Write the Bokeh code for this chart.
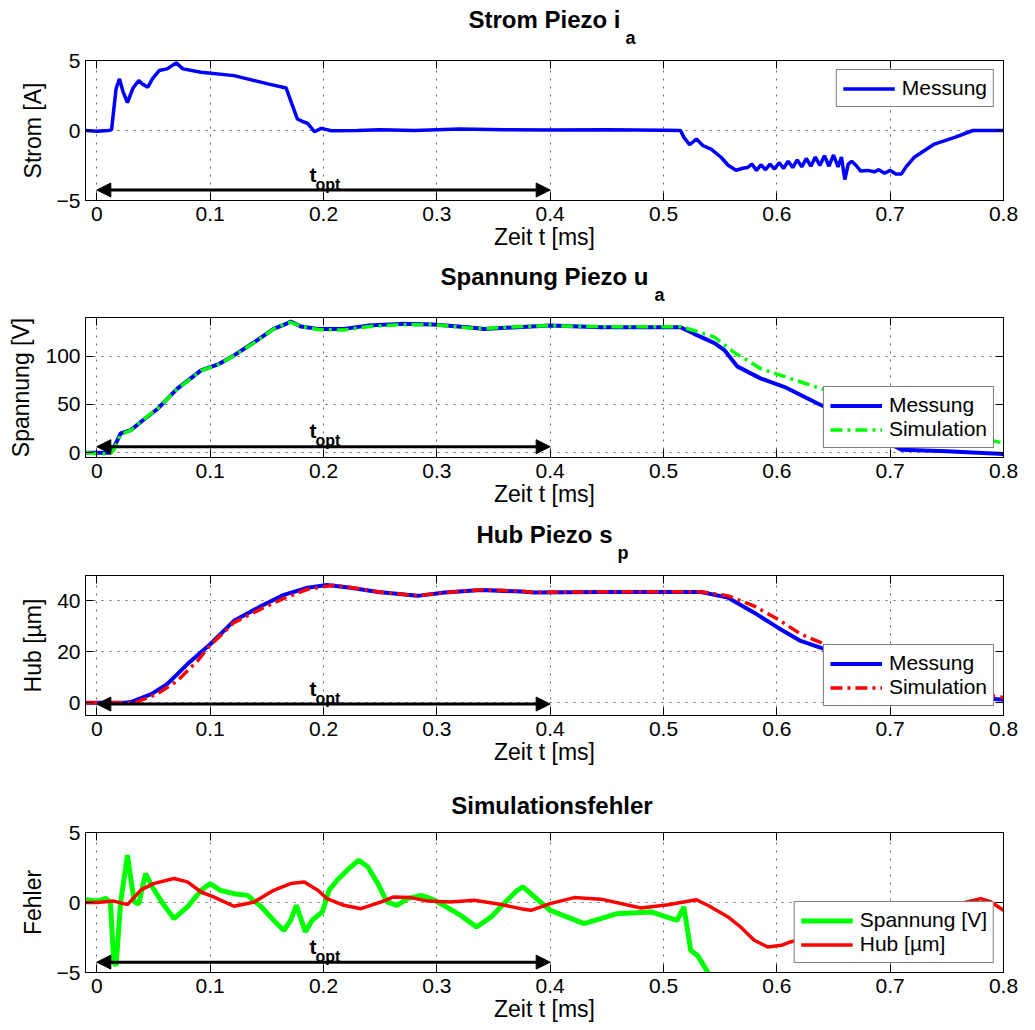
from bokeh.plotting import figure
from bokeh.models import (Range1d, FixedTicker, LinearAxis, Legend, LegendItem,
                          Label, Arrow, NormalHead)
from bokeh.layouts import column
from bokeh.embed import file_html
from bokeh.resources import INLINE

FONT = "Liberation Sans"

# ---------------- data ----------------
x_ticks = [0, 0.1, 0.2, 0.3, 0.4, 0.5, 0.6, 0.7, 0.8]
x_tick_labels = ["0", "0.1", "0.2", "0.3", "0.4", "0.5", "0.6", "0.7", "0.8"]

# Strom Piezo i_a (Messung)
t_i = [-0.01, 0.0, 0.01, 0.013, 0.017, 0.020, 0.023, 0.027, 0.032, 0.037, 0.040, 0.045,
       0.049, 0.055, 0.062, 0.070, 0.076, 0.092, 0.121, 0.151, 0.167, 0.171, 0.177, 0.181,
       0.186, 0.192, 0.198, 0.207, 0.23, 0.25, 0.28, 0.32, 0.36, 0.40, 0.45, 0.50, 0.515,
       0.518, 0.523, 0.529, 0.535, 0.542, 0.551, 0.557, 0.564, 0.570, 0.574, 0.578, 0.582,
       0.586, 0.590, 0.594, 0.598, 0.602, 0.606, 0.610, 0.614, 0.618, 0.622, 0.626, 0.630,
       0.634, 0.638, 0.642, 0.646, 0.650, 0.654, 0.657, 0.660, 0.663, 0.666, 0.670, 0.674,
       0.680, 0.686, 0.690, 0.695, 0.700, 0.705, 0.710, 0.714, 0.721, 0.739, 0.757, 0.773, 0.80]
i_meas = [0.0, -0.05, 0.0, 0.05, 3.0, 3.69, 2.8, 2.0, 3.04, 3.57, 3.33, 3.09,
          3.69, 4.28, 4.4, 4.83, 4.4, 4.16, 3.92, 3.33, 3.04, 2.13, 0.82, 0.66,
          0.51, -0.09, 0.15, -0.02, 0.0, 0.05, 0.0, 0.1, 0.05, 0.03, 0.05, 0.02, 0.0,
          -0.49, -1.02, -0.61, -1.09, -1.33, -1.93, -2.48, -2.84, -2.7, -2.65, -2.4, -2.85,
          -2.45, -2.8, -2.4, -2.75, -2.3, -2.7, -2.2, -2.65, -2.1, -2.6, -2.0, -2.55,
          -1.9, -2.5, -1.8, -2.55, -1.75, -2.6, -1.9, -3.5, -2.4, -2.2, -2.5, -2.9,
          -2.85, -2.95, -2.8, -3.05, -2.85, -3.1, -3.1, -2.6, -1.93, -0.97, -0.49, 0.0, 0.0]

# Spannung Piezo u_a
t_u = [-0.01, 0.0, 0.012, 0.015, 0.021, 0.030, 0.039, 0.054, 0.071, 0.092, 0.107, 0.121,
       0.139, 0.156, 0.168, 0.171, 0.180, 0.195, 0.218, 0.239, 0.268, 0.297, 0.327, 0.342,
       0.371, 0.40, 0.445, 0.515, 0.527, 0.545, 0.554, 0.565, 0.586, 0.607, 0.636, 0.66,
       0.68, 0.70, 0.71, 0.75, 0.80]
u_meas = [0, 0, 0, 5, 20, 23.4, 32, 45.8, 66.4, 85.3, 91.4, 100.7,
          114.4, 128.2, 134, 135.8, 130.6, 128.2, 128.2, 131.6, 133.4, 132.7, 129.9, 128.2,
          129.9, 131.6, 129.9, 129.9, 123.1, 113.4, 105.9, 89.4, 76.7, 68, 50.9, 38,
          25, 9, 3, 1.5, -1.5]
t_u_sim = [-0.01, 0.0, 0.012, 0.015, 0.021, 0.030, 0.039, 0.054, 0.071, 0.092, 0.107, 0.121,
           0.139, 0.156, 0.168, 0.171, 0.180, 0.195, 0.218, 0.239, 0.268, 0.297, 0.327, 0.342,
           0.371, 0.40, 0.445, 0.515, 0.527, 0.545, 0.562, 0.586, 0.612, 0.639, 0.66, 0.69,
           0.72, 0.76, 0.80]
u_sim = [0, -1, -1, 3, 19, 23, 32.5, 46, 66, 85, 91, 100.5,
         114, 128, 134.5, 135, 131, 127.5, 127, 130.5, 132.5, 132.5, 129.5, 128.5,
         130.5, 131.5, 130.5, 130.5, 126.5, 119.6, 104.1, 87, 76.7, 66.4, 58, 45,
         32, 20, 10]

# Hub Piezo s_p
t_s = [-0.01, 0.0, 0.025, 0.030, 0.048, 0.062, 0.080, 0.100, 0.121, 0.145, 0.165, 0.186,
       0.203, 0.224, 0.248, 0.283, 0.307, 0.339, 0.374, 0.386, 0.445, 0.533, 0.557, 0.580,
       0.601, 0.621, 0.639, 0.67, 0.70, 0.75, 0.80]
s_meas = [0, 0, 0, 0.3, 3.4, 7.3, 15.2, 23, 32.2, 38, 42.4, 45.2,
          46.3, 45.2, 43.5, 42, 43.3, 44.3, 43.7, 43.3, 43.5, 43.5, 41.3, 35.4,
          29.5, 24.3, 21.6, 15, 9, 3, 1.2]
t_s_sim = [-0.01, 0.0, 0.033, 0.053, 0.071, 0.089, 0.100, 0.121, 0.145, 0.165, 0.186, 0.209,
           0.224, 0.248, 0.283, 0.307, 0.339, 0.374, 0.386, 0.445, 0.533, 0.557, 0.580, 0.601,
           0.621, 0.639, 0.67, 0.70, 0.75, 0.80]
s_sim = [0, 0, 0, 3.4, 8.6, 16.5, 22.6, 31.5, 36.9, 41, 44.6, 46.2,
         45.3, 43.6, 42, 43.3, 44.4, 43.8, 43.4, 43.6, 43.6, 42, 38, 32.8,
         27, 23.6, 17, 11, 5, 2.1]

# Simulationsfehler
t_eu = [-0.01, 0.0, 0.008, 0.012, 0.015, 0.017, 0.021, 0.027, 0.033, 0.037, 0.043, 0.049,
        0.058, 0.068, 0.080, 0.092, 0.100, 0.109, 0.121, 0.133, 0.145, 0.156, 0.165, 0.171,
        0.176, 0.179, 0.184, 0.190, 0.199, 0.205, 0.212, 0.221, 0.231, 0.239, 0.248, 0.256,
        0.265, 0.274, 0.286, 0.295, 0.306, 0.321, 0.335, 0.348, 0.362, 0.371, 0.376, 0.400,
        0.430, 0.459, 0.489, 0.512, 0.518, 0.524, 0.530, 0.539, 0.545, 0.56, 0.60, 0.70, 0.80]
e_u = [0.2, 0.1, 0.3, 0.0, -4.3, -4.5, 0.0, 3.38, 0.04, -0.1, 2.07, 1.11,
       -0.05, -1.15, -0.31, 0.87, 1.35, 0.87, 0.63, 0.51, -0.3, -1.27, -2.0, -1.27,
       -0.2, -0.92, -2.1, -1.27, -0.67, 0.87, 1.59, 2.31, 3.02, 2.55, 1.35, 0.04,
       -0.2, 0.28, 0.51, 0.28, -0.2, -0.92, -1.75, -1.03, 0.16, 0.87, 1.11, -0.56,
       -1.51, -0.8, -0.67, -1.27, -0.31, -3.42, -3.78, -4.97, -6.5, -9, -10, -12, -11]
t_es = [-0.01, 0.0, 0.015, 0.027, 0.039, 0.050, 0.068, 0.080, 0.092, 0.103, 0.121, 0.139,
        0.156, 0.171, 0.183, 0.195, 0.203, 0.218, 0.233, 0.251, 0.262, 0.277, 0.292, 0.312,
        0.333, 0.357, 0.374, 0.383, 0.400, 0.421, 0.445, 0.480, 0.504, 0.529, 0.539, 0.557,
        0.568, 0.580, 0.592, 0.604, 0.612, 0.65, 0.70, 0.75, 0.78, 0.789, 0.80]
e_s = [0, 0, 0.1, -0.15, 0.9, 1.35, 1.71, 1.47, 0.75, 0.4, -0.27, 0.04,
       0.87, 1.35, 1.47, 0.87, 0.28, -0.2, -0.44, 0.04, 0.4, 0.35, 0.1, 0.04,
       0.16, -0.15, -0.44, -0.56, -0.08, 0.35, 0.24, -0.39, -0.16, 0.2, -0.2, -1.03,
       -1.75, -2.7, -3.18, -3.06, -2.82, -2.0, -1.0, -0.3, 0.28, 0.04, -0.56]

# t_opt arrow (from 0 to 0.4 ms), height per panel in data units
topt_start = 0.0
topt_end = 0.4
topt_y = [-4.25, 6.2, -0.5, -4.26]

BLUE = "#0000ff"
GREEN = "#00ff00"
RED = "#ff0000"


def make_fig(y_lo, y_hi, yticks, ytick_labels, ylabel, top, bottom):
    p = figure(frame_width=918, frame_height=140, title=None,
               x_range=Range1d(-0.01, 0.8), y_range=Range1d(y_lo, y_hi),
               output_backend="svg", toolbar_location=None, tools="",
               min_border_left=85, min_border_right=32,
               min_border_top=top, min_border_bottom=bottom,
               background_fill_color="white", border_fill_color="white",
               outline_line_color="black", outline_line_width=1)
    xt = FixedTicker(ticks=x_ticks)
    yt = FixedTicker(ticks=yticks)
    p.xaxis.ticker = xt
    p.yaxis.ticker = yt
    p.xaxis.major_label_overrides = dict(zip(x_ticks, x_tick_labels))
    p.yaxis.major_label_overrides = dict(zip(yticks, ytick_labels))
    for ax in (p.xaxis[0], p.yaxis[0]):
        ax.major_tick_in = 8
        ax.major_tick_out = 0
        ax.minor_tick_in = 0
        ax.minor_tick_out = 0
        ax.axis_line_color = "black"
        ax.major_tick_line_color = "black"
        ax.major_label_text_font = FONT
        ax.major_label_text_font_size = "21px"
        ax.major_label_text_color = "black"
        ax.axis_label_text_font = FONT
        ax.axis_label_text_font_size = "23px"
        ax.axis_label_text_font_style = "normal"
        ax.axis_label_text_color = "black"
    p.xaxis.axis_label = "Zeit t [ms]"
    p.xaxis.major_label_standoff = 6
    p.xaxis.axis_label_standoff = 0
    p.yaxis.axis_label = ylabel
    p.yaxis.major_label_standoff = 5
    p.yaxis.axis_label_standoff = 8

    # box ticks on the right and top
    ra = LinearAxis(ticker=FixedTicker(ticks=yticks),
                    major_label_overrides={v: "" for v in yticks},
                    major_label_text_font_size="0px",
                    major_tick_in=8, major_tick_out=0, minor_tick_in=0, minor_tick_out=0,
                    major_label_standoff=0, axis_line_color="black")
    ta = LinearAxis(ticker=FixedTicker(ticks=x_ticks),
                    major_label_overrides={v: "" for v in x_ticks},
                    major_label_text_font_size="0px",
                    major_tick_in=8, major_tick_out=0, minor_tick_in=0, minor_tick_out=0,
                    major_label_standoff=0, axis_line_color="black")
    p.add_layout(ra, "right")
    p.add_layout(ta, "above")

    for g in (p.xgrid[0], p.ygrid[0]):
        g.grid_line_color = "black"
        g.grid_line_alpha = 0.6
        g.grid_line_dash = "2 6"
        g.grid_line_width = 1
    p.xgrid.ticker = xt
    p.ygrid.ticker = yt
    return p


def add_title(p, main, sub, sub_x, sub_standoff=13, main_standoff=-8):
    # title row: main text centred as the axis label, subscript as the single tick label
    tb = LinearAxis(ticker=FixedTicker(ticks=[sub_x]),
                    major_label_overrides={sub_x: sub},
                    major_label_text_font=FONT, major_label_text_font_size="18px",
                    major_label_text_font_style="bold", major_label_text_color="black",
                    major_label_standoff=sub_standoff,
                    major_tick_in=0, major_tick_out=0, minor_tick_in=0, minor_tick_out=0,
                    axis_line_color=None, major_tick_line_color=None,
                    axis_label=main, axis_label_text_font=FONT,
                    axis_label_text_font_size="24px", axis_label_text_font_style="bold",
                    axis_label_text_color="black", axis_label_standoff=main_standoff)
    p.add_layout(tb, "above")


def add_plain_title(p, text, x_center, standoff):
    tb = LinearAxis(ticker=FixedTicker(ticks=[x_center]),
                    major_label_overrides={x_center: text},
                    major_label_text_font=FONT, major_label_text_font_size="24px",
                    major_label_text_font_style="bold", major_label_text_color="black",
                    major_label_standoff=standoff,
                    major_tick_in=0, major_tick_out=0, minor_tick_in=0, minor_tick_out=0,
                    axis_line_color=None, major_tick_line_color=None)
    p.add_layout(tb, "above")


def add_topt(p, yv):
    p.add_layout(Arrow(x_start=topt_start, y_start=yv, x_end=topt_end, y_end=yv,
                       line_width=3, line_color="black",
                       start=NormalHead(size=14, fill_color="black", line_color="black"),
                       end=NormalHead(size=14, fill_color="black", line_color="black")))
    mid = (topt_start + topt_end) / 2
    p.add_layout(Label(x=mid, y=yv, text="t", text_align="right", text_baseline="alphabetic",
                       x_offset=-7, y_offset=16, text_font=FONT, text_font_size="21px",
                       text_font_style="bold", text_color="black"))
    p.add_layout(Label(x=mid, y=yv, text="opt", text_align="left", text_baseline="alphabetic",
                       x_offset=-8, y_offset=6, text_font=FONT, text_font_size="16px",
                       text_font_style="bold", text_color="black"))


def add_legend(p, items, loc):
    leg = Legend(items=items, location=loc, border_line_color="black", border_line_width=1,
                 background_fill_color="white", background_fill_alpha=1,
                 label_text_font=FONT, label_text_font_size="21px", label_text_color="black",
                 glyph_width=52, glyph_height=23, label_height=23, padding=6, spacing=0,
                 margin=9, label_standoff=7)
    p.add_layout(leg, "center")


# ---- panel 1
p1 = make_fig(-5, 5, [-5, 0, 5], ["\u22125", "0", "5"], "Strom [A]", 60, 58)
r1 = p1.line(t_i, i_meas, line_color=BLUE, line_width=3.5)
add_topt(p1, topt_y[0])
add_legend(p1, [LegendItem(label="Messung", renderers=[r1])], "top_right")
add_title(p1, "Strom Piezo i", "a", 0.4709)

# ---- panel 2
p2 = make_fig(-5, 140, [0, 50, 100], ["0", "50", "100"], "Spannung [V]", 59, 58)
r2a = p2.line(t_u, u_meas, line_color=BLUE, line_width=4)
r2b = p2.line(t_u_sim, u_sim, line_color=GREEN, line_width=3.5, line_dash="12 5 3 5")
add_topt(p2, topt_y[1])
add_legend(p2, [LegendItem(label="Messung", renderers=[r2a]),
                LegendItem(label="Simulation", renderers=[r2b])], "bottom_right")
add_title(p2, "Spannung Piezo u", "a", 0.4965)

# ---- panel 3
p3 = make_fig(-5, 50, [0, 20, 40], ["0", "20", "40"], "Hub [\u00b5m]", 60, 58)
r3a = p3.line(t_s, s_meas, line_color=BLUE, line_width=4)
r3b = p3.line(t_s_sim, s_sim, line_color=RED, line_width=3.5, line_dash="12 5 3 5")
add_topt(p3, topt_y[2])
add_legend(p3, [LegendItem(label="Messung", renderers=[r3a]),
                LegendItem(label="Simulation", renderers=[r3b])], "bottom_right")
add_title(p3, "Hub Piezo s", "p", 0.4643)

# ---- panel 4
p4 = make_fig(-5, 5, [-5, 0, 5], ["\u22125", "0", "5"], "Fehler", 59, 58)
r4a = p4.line(t_eu, e_u, line_color=GREEN, line_width=5)
r4b = p4.line(t_es, e_s, line_color=RED, line_width=3.5)
add_topt(p4, topt_y[3])
add_legend(p4, [LegendItem(label="Spannung [V]", renderers=[r4a]),
                LegendItem(label="Hub [\u00b5m]", renderers=[r4b])], "bottom_right")
add_plain_title(p4, "Simulationsfehler", 0.4016, 14)

layout = column(p1, p2, p3, p4, spacing=0)
open("out.html", "w").write(file_html(layout, INLINE))
